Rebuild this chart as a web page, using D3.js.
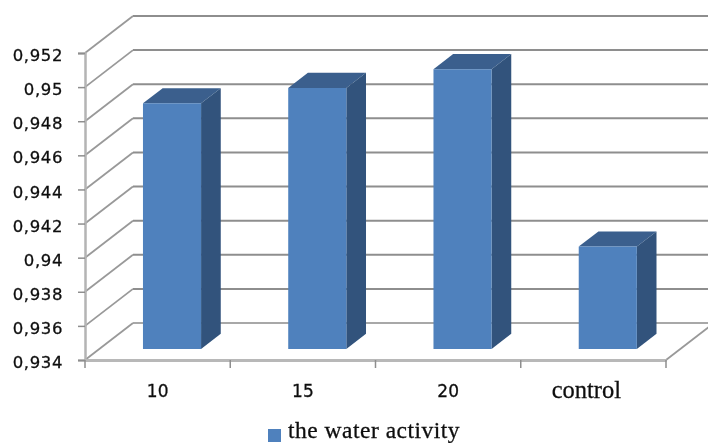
<!DOCTYPE html>
<meta charset="utf-8">
<style>
  html, body { margin: 0; background: #fff; overflow: hidden; }
</style>

<svg width="708" height="443"></svg>

<script src="https://d3js.org/d3.v7.min.js"></script>
<script>

var categories = ["10", "15", "20", "control"]
var values = [0.9484, 0.9493, 0.9504, 0.94]
var yTicks = [0.934, 0.936, 0.938, 0.94, 0.942, 0.944, 0.946, 0.948, 0.95, 0.952]
var seriesName = "the water activity"

var svg = d3.select("svg")

// soft edges, the original is a resampled screenshot
svg.append("defs").append("filter")
  .attr("id", "soft")
  .append("feGaussianBlur")
  .attr("stdDeviation", 0.5)

var chart = svg.append("g").attr("filter", "url(#soft)")

var y = d3.scaleLinear().domain([0.934, 0.952]).range([360, 53])
var x = d3.scaleBand().domain(categories).range([85, 666]).paddingInner(0).paddingOuter(0)

// the fake 3d: how far a point at depth z (0 front, 1 back) is pushed
var depthX = d3.scaleLinear().domain([0, 1]).range([0, 48])
var depthY = d3.scaleLinear().domain([0, 1]).range([0, -37])

var barStart = 0.3
var barEnd = 0.71
var barWidth = x.bandwidth() * 0.4

function fmt(d) {
  return String(+d.toFixed(3)).replace(".", ",")
}

// walls
var grid = chart.append("g")

grid.selectAll(".back")
  .data(yTicks.slice(1))
  .enter().append("line")
  .attr("x1", x.range()[0] + depthX(1))
  .attr("x2", x.range()[1] + depthX(1))
  .attr("y1", function (d) { return y(d) + depthY(1) })
  .attr("y2", function (d) { return y(d) + depthY(1) })
  .attr("stroke", "#8e8e8e")
  .attr("stroke-width", 2)

grid.append("line")
  .attr("x1", x.range()[0] + depthX(1))
  .attr("x2", x.range()[1] + depthX(1))
  .attr("y1", y(0.934) + depthY(1))
  .attr("y2", y(0.934) + depthY(1))
  .attr("stroke", "#a8a8a8")
  .attr("stroke-width", 2)

grid.selectAll(".side")
  .data(yTicks)
  .enter().append("line")
  .attr("x1", x.range()[0])
  .attr("x2", x.range()[0] + depthX(1))
  .attr("y1", function (d) { return y(d) })
  .attr("y2", function (d) { return y(d) + depthY(1) })
  .attr("stroke", "#999")
  .attr("stroke-width", 1.8)

grid.append("line")
  .attr("x1", x.range()[1])
  .attr("x2", x.range()[1] + depthX(1))
  .attr("y1", y(0.934))
  .attr("y2", y(0.934) + depthY(1))
  .attr("stroke", "#999")
  .attr("stroke-width", 1.8)

// axes
var yAxis = chart.append("g")
  .attr("transform", "translate(" + x.range()[0] + ",0)")
  .call(d3.axisLeft(y).tickValues(yTicks).tickFormat(fmt).tickSize(7).tickPadding(15))

yAxis.select(".domain").attr("stroke", "#b4b4b4").attr("stroke-width", 2.5)
yAxis.selectAll("line").attr("stroke", "#8e8e8e").attr("stroke-width", 1.5)
yAxis.selectAll("text")
  .attr("font-family", "DejaVu Sans")
  .attr("font-size", 16.5)
  .attr("letter-spacing", 0.6)
  .attr("dy", "0.46em")
  .attr("fill", "#111")
  .attr("stroke", "#111")
  .attr("stroke-width", 0.3)

var xAxis = chart.append("g")
  .attr("transform", "translate(0," + y(0.934) + ")")
  .call(d3.axisBottom(x).tickSize(0).tickPadding(25))

xAxis.select(".domain").attr("stroke", "#b8b8b8").attr("stroke-width", 3)
xAxis.selectAll("text")
  .attr("font-family", "DejaVu Sans")
  .attr("font-size", 17)
  .attr("fill", "#111")
  .attr("stroke", "#111")
  .attr("stroke-width", 0.3)
xAxis.selectAll(".tick")
  .filter(function (d) { return d === "control" })
  .select("text")
  .attr("font-family", "Liberation Serif")
  .attr("font-size", 24.5)
  .attr("dy", 13)
  .attr("dx", -7)

// x ticks sit on the band edges, not the centres
var edges = categories.map(function (c) { return x(c) }).concat(x.range()[1])
xAxis.selectAll(".edge")
  .data(edges)
  .enter().append("line")
  .attr("x1", function (d) { return d })
  .attr("x2", function (d) { return d })
  .attr("y1", 0)
  .attr("y2", 8)
  .attr("stroke", "#8e8e8e")
  .attr("stroke-width", 1.5)

// bars
var bars = chart.selectAll(".bar")
  .data(categories.map(function (c, i) { return { name: c, value: values[i] } }))
  .enter().append("g")

function corner(d, side, val, z) {
  var left = x(d.name) + (x.bandwidth() - barWidth) / 2
  return [left + side * barWidth + depthX(z), y(val) + depthY(z)]
}

function poly(pts) {
  return pts.map(function (p) { return p.join(",") }).join(" ")
}

bars.append("polygon")
  .attr("fill", "#3a5f8d")
  .attr("points", function (d) {
    return poly([corner(d, 0, d.value, barStart), corner(d, 1, d.value, barStart),
      corner(d, 1, d.value, barEnd), corner(d, 0, d.value, barEnd)])
  })

bars.append("polygon")
  .attr("fill", "#30527c")
  .attr("points", function (d) {
    return poly([corner(d, 1, d.value, barStart), corner(d, 1, d.value, barEnd),
      corner(d, 1, 0.934, barEnd), corner(d, 1, 0.934, barStart)])
  })

bars.append("polygon")
  .attr("fill", "#4f81bd")
  .attr("points", function (d) {
    return poly([corner(d, 0, d.value, barStart), corner(d, 1, d.value, barStart),
      corner(d, 1, 0.934, barStart), corner(d, 0, 0.934, barStart)])
  })

// legend
var legend = chart.append("g").attr("transform", "translate(268,429)")

legend.append("rect")
  .attr("width", 13)
  .attr("height", 13)
  .attr("fill", "#4f81bd")

legend.append("text")
  .attr("x", 20)
  .attr("y", 9)
  .attr("font-family", "Liberation Serif")
  .attr("font-size", 23.5)
  .attr("letter-spacing", 0.5)
  .attr("fill", "#111")
  .attr("stroke", "#111")
  .attr("stroke-width", 0.3)
  .text(seriesName)

</script>
